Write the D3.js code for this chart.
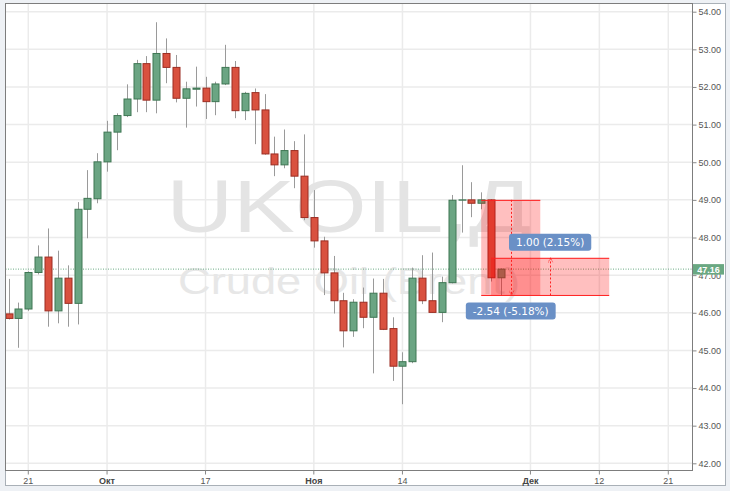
<!DOCTYPE html>
<html><head><meta charset="utf-8">
<script src="https://cdn.jsdelivr.net/npm/d3@7"></script>
<style>
body{margin:0;background:#eef1f5;}
svg{display:block;}
</style>
</head><body>
<svg id="chart" width="730" height="491"></svg>
<script>
// ---- data (UKOIL daily candles) ----
const dates = ["2016-09-19","2016-09-20","2016-09-21","2016-09-22","2016-09-23","2016-09-26","2016-09-27","2016-09-28","2016-09-29","2016-09-30",
"2016-10-03","2016-10-04","2016-10-05","2016-10-06","2016-10-07","2016-10-10","2016-10-11","2016-10-12","2016-10-13","2016-10-14",
"2016-10-17","2016-10-18","2016-10-19","2016-10-20","2016-10-21","2016-10-24","2016-10-25","2016-10-26","2016-10-27","2016-10-28",
"2016-10-31","2016-11-01","2016-11-02","2016-11-03","2016-11-04","2016-11-07","2016-11-08","2016-11-09","2016-11-10","2016-11-11",
"2016-11-14","2016-11-15","2016-11-16","2016-11-17","2016-11-18","2016-11-21","2016-11-22","2016-11-23","2016-11-24","2016-11-25","2016-11-28"];
const opens  = [45.97,45.85,46.10,47.07,47.48,46.05,46.92,46.25,48.75,49.03, 50.01,50.80,51.24,51.68,52.62,51.65,52.89,52.52,51.70,51.94,
51.97,51.61,52.08,52.52,51.37,51.85,51.39,50.22,49.93,50.31, 49.63,48.53,47.91,47.06,46.32,45.52,46.28,45.88,46.52,45.58,
44.58,44.70,46.92,46.32,46.01,46.80,49.00,49.00,48.91,49.00,46.93];
const highs  = [46.90,46.27,47.10,47.79,48.24,47.65,47.26,48.94,49.79,50.24, 51.10,51.30,52.07,52.72,52.82,53.72,53.29,52.85,52.14,52.54,
52.27,52.14,53.12,52.69,51.87,51.96,51.81,50.68,50.87,50.56, 50.74,49.26,48.02,47.51,46.53,46.36,46.67,46.91,46.90,45.88,
44.95,47.20,47.53,47.60,46.96,49.13,49.92,49.47,49.20,49.02,47.18];
const lows   = [45.82,45.07,46.05,47.02,45.63,45.72,45.63,45.69,47.98,48.91, 49.75,50.32,51.20,51.33,51.33,51.30,52.10,51.59,50.92,51.48,
51.15,51.25,52.05,51.17,51.12,50.48,50.20,49.63,49.84,49.31, 48.46,47.73,46.47,45.98,45.08,45.36,45.59,44.39,45.54,44.19,
43.57,44.66,46.23,46.00,45.75,46.78,48.13,48.54,48.75,46.83,46.45];
const closes = [45.85,46.10,47.07,47.48,46.05,46.92,46.25,48.75,49.04,50.01, 50.80,51.24,51.68,52.62,51.65,52.89,52.52,51.70,51.95,51.97,
51.61,52.08,52.52,51.37,51.83,51.39,50.22,49.93,50.31,49.63, 48.53,47.91,47.06,46.32,45.52,46.28,45.88,46.52,45.56,44.58,
44.70,46.92,46.32,46.01,46.80,48.99,49.00,48.91,49.00,46.93,47.16];

const yTicks = [42,43,44,45,46,47,48,49,50,51,52,53,54];
const xTickDates  = ["2016-09-21","2016-10-03","2016-10-17","2016-11-01","2016-11-14","2016-12-01","2016-12-12","2016-12-21"];
const xTickLabels = ["21","Окт","17","Ноя","14","Дек","12","21"];
const lastPrice = 47.16;

// position tool (short zone / target zone)
const zoneStart  = ["2016-11-24","2016-11-25"];
const zoneEnd    = ["2016-12-02","2016-12-13"];
const zoneTop    = [49.00, 47.46];
const zoneBottom = [46.46, 46.46];
const zoneLabels = ["-2.54 (-5.18%)", "1.00 (2.15%)"];
const watermark  = ["UKOIL,Д", "Crude Oil (Brent)"];

// ---- layout ----
const svg = d3.select("#chart");
const plot = {l:5.5, t:3.5, r:692.5, b:470.5};
const fmt = d3.timeFormat("%Y-%m-%d");
const days = d3.timeDay.range(new Date(2016,8,19), new Date(2016,11,31))
  .filter(d => d.getDay() !== 0 && d.getDay() !== 6).map(fmt);
const step = 9.846, r0 = 8.6 - step/2;
const x = d3.scaleBand().domain(days).range([r0, r0 + step*days.length]).paddingInner(0);
const cx = d => x(d) + x.bandwidth()/2;
const y = d3.scaleLinear().domain([42,54]).range([463.3, 11.7]);

// container
svg.append("rect").attr("x",5.5).attr("y",3.5).attr("width",720).attr("height",482)
  .attr("fill","#fff").attr("stroke","#a9b0b7");

// clip
svg.append("clipPath").attr("id","pc").append("rect")
  .attr("x",plot.l).attr("y",plot.t).attr("width",plot.r-plot.l).attr("height",plot.b-plot.t);
const g = svg.append("g").attr("clip-path","url(#pc)");

// grid
g.selectAll(".hg").data(yTicks).join("line")
  .attr("x1",plot.l).attr("x2",plot.r).attr("y1",d=>y(d)).attr("y2",d=>y(d))
  .attr("stroke","#ebebeb").attr("stroke-width",1.5);
g.selectAll(".vg").data(xTickDates).join("line")
  .attr("x1",d=>cx(d)).attr("x2",d=>cx(d)).attr("y1",plot.t).attr("y2",plot.b)
  .attr("stroke","#ebebeb").attr("stroke-width",1.5);

// watermark
const midX = (plot.l+plot.r)/2;
g.append("text").text(watermark[0]).attr("x",midX).attr("y",232).attr("text-anchor","middle")
  .attr("font-family","Liberation Sans, Arial, sans-serif").attr("font-size",75)
  .attr("textLength",365).attr("lengthAdjust","spacingAndGlyphs").attr("fill","#e4e4e4");
g.append("text").text(watermark[1]).attr("x",midX).attr("y",294).attr("text-anchor","middle")
  .attr("font-family","Liberation Sans, Arial, sans-serif").attr("font-size",36)
  .attr("textLength",342).attr("lengthAdjust","spacingAndGlyphs").attr("fill","#e7e7e7");

// last price line
g.append("line").attr("x1",plot.l).attr("x2",plot.r).attr("y1",y(lastPrice)).attr("y2",y(lastPrice))
  .attr("stroke","#6aaa84").attr("stroke-dasharray","1,1.5").attr("stroke-width",1);

// candles
const candles = dates.map((d,i)=>({d, o:opens[i], h:highs[i], l:lows[i], c:closes[i]}));
const bw = 7;
const cg = g.selectAll(".c").data(candles).join("g");
cg.append("line").attr("x1",d=>Math.round(cx(d.d))+0.5).attr("x2",d=>Math.round(cx(d.d))+0.5)
  .attr("y1",d=>y(d.h)).attr("y2",d=>y(d.l)).attr("stroke","#9a9a9a").attr("stroke-width",1);
cg.append("rect")
  .attr("x",d=>Math.round(cx(d.d))+0.5-bw/2)
  .attr("y",d=>y(Math.max(d.o,d.c)))
  .attr("width",bw)
  .attr("height",d=>Math.max(0.3, Math.abs(y(d.o)-y(d.c))))
  .attr("fill",d=>d.c>=d.o?"#6ba583":"#d9513f")
  .attr("stroke",d=>d.c>=d.o?"#3e7653":"#9c2d22").attr("stroke-width",1);

// position zones
const zg = g.append("g");
zoneStart.forEach((s,i)=>{
  zg.append("rect").attr("x",cx(s)).attr("width",cx(zoneEnd[i])-cx(s))
    .attr("y",y(zoneTop[i])).attr("height",y(zoneBottom[i])-y(zoneTop[i]))
    .attr("fill","rgba(255,0,0,0.25)");
  zg.append("line").attr("x1",cx(s)).attr("x2",cx(zoneEnd[i]))
    .attr("y1",y(zoneTop[i])+0.5).attr("y2",y(zoneTop[i])+0.5).attr("stroke","#ff2020");
});
zg.append("line").attr("x1",cx(zoneStart[0])).attr("x2",cx(zoneEnd[1]))
  .attr("y1",y(zoneBottom[0])).attr("y2",y(zoneBottom[0])).attr("stroke","#ff2020");
const defs = svg.append("defs");
defs.append("marker").attr("id","ah").attr("viewBox","0 0 10 10").attr("refX",9).attr("refY",5)
  .attr("markerWidth",6).attr("markerHeight",6).attr("orient","auto")
  .append("path").attr("d","M1,1 L9,5 L1,9").attr("fill","none").attr("stroke","#ff2020").attr("stroke-width",1.5).attr("stroke-dasharray","2,1.5");
const arrows = [
  {x:(cx(zoneStart[0])+cx(zoneEnd[0]))/2, y1:y(zoneTop[0]), y2:y(zoneBottom[0])},
  {x:(cx(zoneStart[1])+cx(zoneEnd[1]))/2, y1:y(zoneBottom[1]), y2:y(zoneTop[1])}
];
arrows.forEach(a=>{
  zg.append("line").attr("x1",Math.round(a.x)+0.5).attr("x2",Math.round(a.x)+0.5).attr("y1",a.y1).attr("y2",a.y2)
    .attr("stroke","#ff2020").attr("stroke-dasharray","2,2").attr("marker-end","url(#ah)");
});
const labPos = [
  {x:arrows[0].x, y:y(zoneBottom[0])+7, anchorTop:true},
  {x:arrows[1].x, y:y(zoneTop[1])-7, anchorTop:false}
];
zoneLabels.forEach((t,i)=>{
  const lg = svg.append("g");
  const tx = lg.append("text").text(t).attr("font-family","DejaVu Sans, sans-serif").attr("font-size",10.5)
    .attr("fill","#fff").attr("text-anchor","middle");
  const w = tx.node().getComputedTextLength() + 14, h = 17;
  const top = labPos[i].anchorTop ? labPos[i].y : labPos[i].y - h;
  lg.insert("rect","text").attr("x",labPos[i].x - w/2).attr("y",top).attr("width",w).attr("height",h)
    .attr("rx",3).attr("fill","#6a90c6");
  tx.attr("x",labPos[i].x).attr("y",top + 12.5);
});

// plot border
svg.append("rect").attr("x",plot.l).attr("y",plot.t).attr("width",plot.r-plot.l).attr("height",plot.b-plot.t)
  .attr("fill","none").attr("stroke","#7d7d7d");

// y axis
const ya = svg.append("g").attr("transform",`translate(${plot.r},0)`)
  .call(d3.axisRight(y).tickValues(yTicks).tickFormat(d3.format(".2f")).tickSize(4).tickPadding(2));
ya.select(".domain").remove();
ya.selectAll("line").attr("stroke","#888");
ya.selectAll("text").attr("font-family","Liberation Sans, Arial, sans-serif").attr("font-size",9).attr("fill","#555");

// x axis
const xa = svg.append("g").attr("transform",`translate(0,${plot.b})`)
  .call(d3.axisBottom(x).tickValues(xTickDates).tickFormat((d,i)=>xTickLabels[i]).tickSize(4).tickPadding(3).offset(0));
xa.select(".domain").remove();
xa.selectAll(".tick").attr("transform",d=>`translate(${cx(d)},0)`);
xa.selectAll("line").attr("stroke","#888");
xa.selectAll("text").attr("font-family","Liberation Sans, Arial, sans-serif").attr("font-size",9)
  .attr("fill",(d,i)=>isNaN(+xTickLabels[i])?"#444":"#555")
  .attr("font-weight",(d,i)=>isNaN(+xTickLabels[i])?"bold":"normal");

// last price label
const pl = svg.append("g");
pl.append("rect").attr("x",plot.r+0.5).attr("y",y(lastPrice)-5).attr("width",31).attr("height",10.5).attr("fill","#6aa882");
pl.append("text").text(d3.format(".2f")(lastPrice)).attr("x",plot.r+16).attr("y",y(lastPrice)+3.5)
  .attr("text-anchor","middle").attr("font-family","Liberation Sans, Arial, sans-serif")
  .attr("font-size",9).attr("font-weight","bold").attr("fill","#fff");
</script>
</body></html>
